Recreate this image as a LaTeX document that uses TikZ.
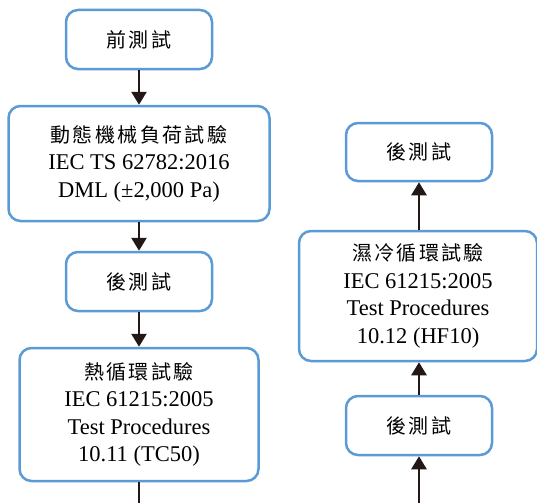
\documentclass[tikz,border=0pt]{standalone}
\usepackage{fontspec}
\setmainfont{Liberation Serif}
\newfontfamily\cjkfont[LetterSpace=12]{Noto Sans CJK TC}
\usetikzlibrary{arrows.meta}

\definecolor{boxblue}{HTML}{5B9BD5}
\definecolor{arrowdark}{HTML}{231815}
\newcommand{\zh}[1]{{\cjkfont\fontsize{20}{27.5}\selectfont #1}}

\begin{document}
\begin{tikzpicture}[
    x=1pt, y=-1pt,
    % Flechas del flujo de pruebas
    flow/.style={
        draw=arrowdark,
        line width=2.7pt,
        -{Triangle[length=13pt, width=15pt]}
    },
    % Estilo para las cajas de prueba
    testbox/.style={
        draw=boxblue,
        line width=2.5pt,
        rounded corners=12pt,
        fill=white,
        align=center,
        inner sep=0pt,
        font=\fontsize{22.5}{27.5}\selectfont
    },
    % Cajas pequeñas (pre / post)
    smallbox/.style={
        testbox,
        minimum width=146pt,
        minimum height=59pt
    }
]
    \useasboundingbox (0,0) rectangle (537,503);

    % ==========================================
    % COLUMNA IZQUIERDA
    % ==========================================
    \node[smallbox] (pre) at (139, 39.5) {\zh{前測試}};
    \node[testbox, minimum width=261pt, minimum height=115pt] (dml) at (139, 163.5)
        {\zh{動態機械負荷試驗}\\IEC TS 62782:2016\\DML (±2,000 Pa)};
    \node[smallbox] (postA) at (139, 281.5) {\zh{後測試}};
    \node[testbox, minimum width=239pt, minimum height=133pt] (tc) at (139, 414.5)
        {\zh{熱循環試驗}\\IEC 61215:2005\\Test Procedures\\10.11 (TC50)};
    \coordinate (tcout) at (139, 503);

    \draw[flow] (pre.south) -- (dml.north);
    \draw[flow] (dml.south) -- (postA.north);
    \draw[flow] (postA.south) -- (tc.north);
    \draw[flow, -] (tc.south) -- (tcout);

    % ==========================================
    % COLUMNA DERECHA
    % ==========================================
    \node[smallbox, minimum height=58pt] (postB) at (419, 152) {\zh{後測試}};
    \node[testbox, minimum width=238pt, minimum height=130pt] (hf) at (418, 296)
        {\zh{濕冷循環試驗}\\IEC 61215:2005\\Test Procedures\\10.12 (HF10)};
    \node[smallbox] (postC) at (419, 425.5) {\zh{後測試}};
    \coordinate (hfin) at (419, 503);

    \draw[flow] (hfin) -- (postC.south);
    \draw[flow] (postC.north) -- (postC.north |- hf.south);
    \draw[flow] (postB.south |- hf.north) -- (postB.south);

\end{tikzpicture}
\end{document}
